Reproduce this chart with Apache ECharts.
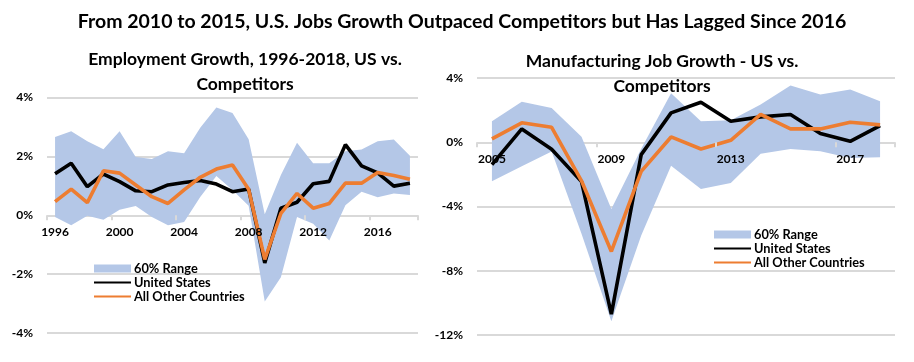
<!DOCTYPE html>
<html>
<head>
<meta charset="utf-8">
<script src="https://cdn.jsdelivr.net/npm/echarts@6/dist/echarts.min.js"></script>
<style>
html,body{margin:0;padding:0;background:#fff;}
#chart{width:914px;height:362px;}
</style>
</head>
<body>
<div id="chart"></div>
<script>
// ---- Left chart: Employment growth (%), 1996-2018 ----
const empYears = ['1996','1997','1998','1999','2000','2001','2002','2003','2004','2005','2006','2007','2008','2009','2010','2011','2012','2013','2014','2015','2016','2017','2018'];
const empUS     = [1.41,1.77,0.97,1.40,1.14,0.83,0.80,1.03,1.11,1.18,1.06,0.80,0.89,-1.62,0.24,0.44,1.07,1.15,2.40,1.68,1.44,0.99,1.09];
const empOthers = [0.46,0.89,0.43,1.51,1.43,1.03,0.63,0.40,0.86,1.29,1.57,1.71,0.88,-1.50,0.06,0.74,0.24,0.40,1.09,1.09,1.45,1.35,1.22];
const empUpper  = [2.66,2.85,2.51,2.24,2.85,1.98,1.91,2.17,2.11,2.97,3.66,3.47,2.58,0.03,1.37,2.46,1.77,1.77,2.17,2.23,2.51,2.57,2.02];
const empLower  = [-0.06,-0.34,-0.02,-0.15,0.19,0.31,-0.06,-0.34,-0.23,0.62,1.33,0.86,0.32,-2.93,-2.11,-0.06,-0.29,-0.86,0.34,0.80,0.61,0.74,0.69];
const empTicks  = [-4,-2,0,2,4];

// ---- Right chart: Manufacturing job growth (%), 2005-2018 ----
const mfgYears = ['2005','2006','2007','2008','2009','2010','2011','2012','2013','2014','2015','2016','2017','2018'];
const mfgUS     = [-1.39,0.83,-0.44,-2.45,-10.70,-0.77,1.83,2.49,1.31,1.58,1.73,0.54,0.06,1.04];
const mfgOthers = [0.21,1.21,0.93,-2.40,-6.80,-1.81,0.33,-0.42,0.12,1.73,0.83,0.83,1.25,1.08];
const mfgUpper  = [1.31,2.52,2.14,0.35,-4.15,-0.40,3.05,1.31,1.37,2.35,3.53,2.97,3.28,2.56];
const mfgLower  = [-2.43,-1.50,-0.58,-5.70,-11.15,-5.80,-1.46,-2.91,-2.54,-0.71,-0.42,-0.56,-0.98,-0.94];
const mfgTicks  = [-12,-8,-4,0,4];

const mainTitle = 'From 2010 to 2015, U.S. Jobs Growth Outpaced Competitors but Has Lagged Since 2016';
const leftTitle = 'Employment Growth, 1996-2018, US vs.\nCompetitors';
const rightTitle = 'Manufacturing Job Growth - US vs.\nCompetitors';
const nameBand = '60% Range', nameUS = 'United States', nameOthers = 'All Other Countries';

const FONT = 'Lato, "Open Sans", sans-serif';
const BAND = '#b4c7e7', ORANGE = '#ed7d31', BLACK = '#000000', GRID = '#d9d9d9';

const diff = (u, l) => u.map((v, i) => +(v - l[i]).toFixed(3));

// grid geometry
const gridL = { left: 47, right: 496, top: 97.5, bottom: 29 };
const gridR = { left: 477, right: 19, top: 78, bottom: 27 };
const H = 362;
function zeroOffset(g, ticks) {
  const h = H - g.top - g.bottom;
  const min = ticks[0], max = ticks[ticks.length - 1];
  return -h * (0 - min) / (max - min);
}

function xAxis(idx, cats, offset) {
  return {
    type: 'category', gridIndex: idx, data: cats, boundaryGap: true, offset: offset, z: 6,
    axisLine: { show: false, onZero: false },
    axisTick: { show: true, interval: 3, length: 5, lineStyle: { color: GRID, width: 2 } },
    axisLabel: { interval: 3, margin: 11, color: '#000', fontWeight: 'bold', fontSize: 12, fontFamily: FONT },
    splitLine: { show: false }
  };
}
function yAxis(idx, ticks) {
  return {
    type: 'value', gridIndex: idx, min: ticks[0], max: ticks[ticks.length - 1],
    interval: ticks[1] - ticks[0],
    axisLine: { show: false }, axisTick: { show: false },
    axisLabel: { formatter: '{value}%', margin: 14, color: '#000', fontWeight: 'bold', fontSize: 12, fontFamily: FONT },
    splitLine: { lineStyle: { color: GRID, width: 2 } }
  };
}
function bandSeries(idx, lower, upper) {
  return [
    { name: 'base' + idx, type: 'line', xAxisIndex: idx, yAxisIndex: idx, stack: 'band' + idx, stackStrategy: 'all',
      data: lower, symbol: 'none', lineStyle: { opacity: 0, width: 0 }, silent: true, z: 1 },
    { name: nameBand, type: 'line', xAxisIndex: idx, yAxisIndex: idx, stack: 'band' + idx, stackStrategy: 'all',
      data: diff(upper, lower), symbol: 'none', lineStyle: { opacity: 0, width: 0 },
      itemStyle: { color: BAND }, areaStyle: { color: BAND, opacity: 1 }, silent: true, z: 1 }
  ];
}
function lineSeries(idx, name, data, color) {
  return { name: name, type: 'line', xAxisIndex: idx, yAxisIndex: idx, data: data, symbol: 'none',
    lineStyle: { color: color, width: 3.6 }, itemStyle: { color: color }, z: 3 };
}
function legend(left, top) {
  return {
    orient: 'vertical', left: left, top: top, itemWidth: 37, itemHeight: 8, itemGap: 1, padding: 0,
    selectedMode: false,
    textStyle: { color: '#000', fontWeight: 'bold', fontSize: 12.8, fontFamily: FONT, padding: [0, 0, 0, -2] },
    data: [
      { name: nameBand, icon: 'rect', itemStyle: { color: BAND } },
      { name: nameUS, itemStyle: { opacity: 0 } },
      { name: nameOthers, itemStyle: { opacity: 0 } }
    ]
  };
}

const chart = echarts.init(document.getElementById('chart'), null, { renderer: 'canvas' });
chart.setOption({
  animation: false,
  backgroundColor: '#fff',
  title: [
    { text: mainTitle, left: 457, top: 7, textAlign: 'center',
      textStyle: { fontSize: 19.5, fontWeight: 'bold', color: '#000', fontFamily: FONT } },
    { text: leftTitle, left: 240, top: 42, textAlign: 'center',
      textStyle: { fontSize: 17.5, fontWeight: 'bold', color: '#000', fontFamily: FONT, lineHeight: 25 } },
    { text: rightTitle, left: 657, top: 44, textAlign: 'center',
      textStyle: { fontSize: 17.5, fontWeight: 'bold', color: '#000', fontFamily: FONT, lineHeight: 25 } }
  ],
  legend: [legend(93, 262), legend(713, 228)],
  grid: [gridL, gridR],
  xAxis: [xAxis(0, empYears, zeroOffset(gridL, empTicks)), xAxis(1, mfgYears, zeroOffset(gridR, mfgTicks))],
  yAxis: [yAxis(0, empTicks), yAxis(1, mfgTicks)],
  series: [
    ...bandSeries(0, empLower, empUpper),
    lineSeries(0, nameUS, empUS, BLACK),
    lineSeries(0, nameOthers, empOthers, ORANGE),
    ...bandSeries(1, mfgLower, mfgUpper),
    lineSeries(1, nameUS, mfgUS, BLACK),
    lineSeries(1, nameOthers, mfgOthers, ORANGE)
  ]
});
</script>
</body>
</html>
